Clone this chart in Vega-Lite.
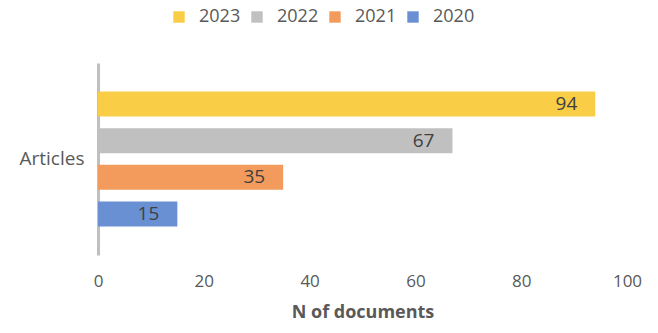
{
  "$schema": "https://vega.github.io/schema/vega-lite/v6.json",
  "width": 529,
  "height": 192,
  "autosize": {"type": "none"},
  "padding": {"left": 98, "top": 63, "right": 31, "bottom": 78},
  "config": {"view": {"stroke": null}, "font": "Open Sans"},
  "data": {
    "values": [
      {"category": "Articles", "year": "2023", "n": 94},
      {"category": "Articles", "year": "2022", "n": 67},
      {"category": "Articles", "year": "2021", "n": 35},
      {"category": "Articles", "year": "2020", "n": 15}
    ]
  },
  "encoding": {
    "y": {
      "field": "category",
      "type": "nominal",
      "title": null,
      "scale": {"paddingInner": 0, "paddingOuter": 0.211},
      "axis": {
        "domain": true,
        "domainColor": "#BFBFBF",
        "domainWidth": 3,
        "ticks": false,
        "labelFontSize": 19,
        "labelColor": "#595959",
        "labelPadding": 14
      }
    },
    "yOffset": {
      "field": "year",
      "type": "nominal",
      "sort": ["2023", "2022", "2021", "2020"],
      "scale": {"paddingInner": 0.32, "paddingOuter": 0}
    },
    "x": {
      "field": "n",
      "type": "quantitative",
      "scale": {"domain": [0, 100]},
      "axis": {
        "values": [0, 20, 40, 60, 80, 100],
        "domain": false,
        "ticks": false,
        "grid": false,
        "labelFlush": false,
        "labelFontSize": 17,
        "labelColor": "#595959",
        "labelPadding": 18,
        "title": "N of documents",
        "titleFontSize": 18,
        "titleFontWeight": "bold",
        "titleColor": "#595959",
        "titlePadding": 14
      }
    }
  },
  "layer": [
    {
      "mark": {"type": "bar"},
      "encoding": {
        "color": {
          "field": "year",
          "type": "nominal",
          "sort": ["2023", "2022", "2021", "2020"],
          "scale": {
            "domain": ["2023", "2022", "2021", "2020"],
            "range": ["#F9CD45", "#C0C0C0", "#F29B5C", "#6A90D4"]
          },
          "legend": {
            "title": null,
            "orient": "none",
            "legendX": 72,
            "legendY": -55,
            "direction": "horizontal",
            "symbolType": "square",
            "symbolSize": 130,
            "symbolStrokeWidth": 0,
            "labelFontSize": 18,
            "labelColor": "#595959",
            "labelOffset": 11,
            "columnPadding": 7
          }
        }
      }
    },
    {
      "mark": {
        "type": "text",
        "align": "right",
        "baseline": "middle",
        "dx": -18,
        "fontSize": 19,
        "color": "#404040"
      },
      "encoding": {
        "text": {"field": "n", "type": "quantitative"}
      }
    }
  ]
}
